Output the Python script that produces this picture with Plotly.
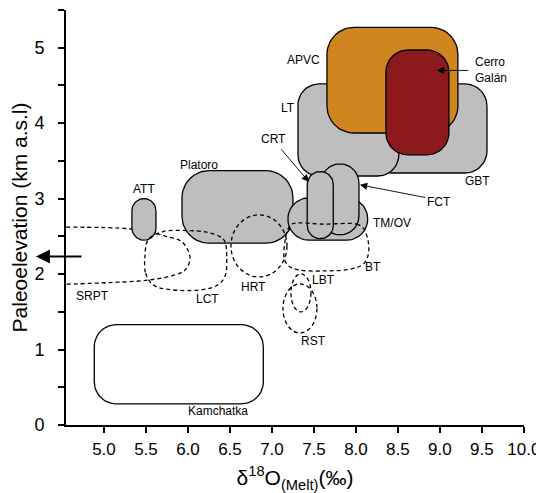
import numpy as np
import plotly.graph_objects as go

# ---------------- data ----------------
X_RANGE = [4.548, 10.001]
Y_RANGE = [0.0, 5.5]
x_tick_vals = [5.0, 5.5, 6.0, 6.5, 7.0, 7.5, 8.0, 8.5, 9.0, 9.5, 10.0]
x_tick_text = ["5.0", "5.5", "6.0", "6.5", "7.0", "7.5", "8.0", "8.5", "9.0", "9.5", "10.0"]
y_tick_vals = [0, 1, 2, 3, 4, 5]

# filled fields (d18O melt range, paleoelevation range)
box_names = ["Kamchatka", "ATT", "Platoro", "GBT", "LT", "APVC", "Cerro Galán", "TM/OV", "FCT", "CRT"]
box_x0 = [4.885, 5.333, 5.929, 8.17, 7.31, 7.655, 8.357, 7.19, 7.583, 7.42]
box_x1 = [6.897, 5.619, 7.25, 9.56, 8.51, 9.214, 9.107, 8.14, 8.036, 7.73]
box_y0 = [0.28, 2.45, 2.41, 3.34, 3.30, 3.87, 3.58, 2.45, 2.52, 2.47]
box_y1 = [1.33, 3.00, 3.37, 4.52, 4.52, 5.27, 4.97, 3.01, 3.46, 3.36]

# dashed fields (outlines)
srpt_x = [4.548, 5.310, 5.607, 5.746, 5.925, 6.024, 5.985, 5.905, 5.548, 5.071, 4.548]
srpt_y = [2.622, 2.600, 2.542, 2.497, 2.431, 2.232, 2.078, 2.012, 1.923, 1.888, 1.866]
lct_x = [5.488, 5.496, 5.587, 5.746, 6.143, 6.342, 6.440, 6.461, 6.440, 6.381, 6.223, 5.985, 5.706, 5.527, 5.488]
lct_y = [2.232, 2.012, 1.857, 1.800, 1.790, 1.848, 1.967, 2.232, 2.431, 2.497, 2.556, 2.577, 2.564, 2.454, 2.232]
bt_x = [7.630, 8.008, 8.087, 8.146, 8.146, 8.087, 7.949, 7.631, 7.313, 7.194, 7.146, 7.155, 7.187, 7.235, 7.630]
bt_y = [2.662, 2.662, 2.609, 2.431, 2.255, 2.131, 2.069, 2.042, 2.056, 2.113, 2.211, 2.431, 2.586, 2.662, 2.662]
ell_names = ["HRT", "LBT", "RST"]
ell_x0 = [6.512, 7.226, 7.131]
ell_x1 = [7.179, 7.464, 7.536]
ell_y0 = [1.963, 1.499, 1.220]
ell_y1 = [2.785, 2.003, 1.870]

# labels
label_text = ["APVC", "Cerro<br>Galán", "LT", "CRT", "FCT", "GBT", "TM/OV", "BT", "LBT",
              "RST", "HRT", "LCT", "SRPT", "ATT", "Platoro", "Kamchatka"]
label_x = [7.595, 9.393, 7.19, 7.024, 8.988, 9.452, 8.179, 8.202, 7.619,
           7.494, 6.786, 6.238, 4.869, 5.476, 6.131, 6.357]
label_y = [4.84, 4.70, 4.204, 3.793, 2.958, 3.236, 2.679, 2.095, 1.923,
           1.114, 1.830, 1.671, 1.711, 3.130, 3.448, 0.186]

# pointer arrows (tip -> tail)
arrow_tip_x = [8.964, 7.440, 8.048, 4.190]
arrow_tip_y = [4.699, 3.223, 3.183, 2.232]
arrow_tail_x = [9.357, 7.095, 8.845, 4.750]
arrow_tail_y = [4.699, 3.674, 3.011, 2.232]

# ---------------- style ----------------
W, H = 544, 493
M_L, M_R, M_T, M_B = 58, 28, 2, 76
GRAY = "#BDBEBD"
box_fill = ["white", GRAY, GRAY, GRAY, GRAY, "#CF8621", "#8C1A1C", GRAY, GRAY, GRAY]
box_radius_px = [22, 12, 27, 22, 21, 27, 22, 21, 19, 13]
label_anchor = ["right", "left", "center", "center", "center", "center", "left", "center", "center",
                "center", "center", "center", "center", "center", "center", "center"]
FONT = "Arial, Liberation Sans, Helvetica, sans-serif"
DASH = "4px,3px"

sx = (W - M_L - M_R) / (X_RANGE[1] - X_RANGE[0])
sy = (H - M_T - M_B) / (Y_RANGE[1] - Y_RANGE[0])


def rounded_rect(x0, x1, y0, y1, r):
    rx = min(r / sx, (x1 - x0) / 2)
    ry = min(r / sy, (y1 - y0) / 2)
    xs, ys = [], []
    for cx, cy, a0, a1 in [(x1 - rx, y1 - ry, 0, 90), (x0 + rx, y1 - ry, 90, 180),
                           (x0 + rx, y0 + ry, 180, 270), (x1 - rx, y0 + ry, 270, 360)]:
        t = np.radians(np.linspace(a0, a1, 14))
        xs.extend(cx + rx * np.cos(t))
        ys.extend(cy + ry * np.sin(t))
    xs.append(xs[0])
    ys.append(ys[0])
    return xs, ys


fig = go.Figure()


def add_box(i):
    xs, ys = rounded_rect(box_x0[i], box_x1[i], box_y0[i], box_y1[i], box_radius_px[i])
    fig.add_trace(go.Scatter(x=xs, y=ys, mode="lines", fill="toself", fillcolor=box_fill[i],
                             line=dict(color="black", width=1.3), hoverinfo="skip", name=box_names[i]))


def add_dashed(xs, ys, name):
    fig.add_trace(go.Scatter(x=xs, y=ys, mode="lines",
                             line=dict(color="black", width=1.3, dash=DASH, shape="spline", smoothing=1.0),
                             hoverinfo="skip", name=name))


add_box(0)                       # Kamchatka
add_dashed(srpt_x, srpt_y, "SRPT")
for i in range(1, len(box_names)):
    add_box(i)
add_dashed(lct_x, lct_y, "LCT")
add_dashed(bt_x, bt_y, "BT")

shapes = []
for i in range(len(ell_names)):
    shapes.append(dict(type="circle", xref="x", yref="y", x0=ell_x0[i], x1=ell_x1[i],
                       y0=ell_y0[i], y1=ell_y1[i], layer="above",
                       line=dict(color="black", width=1.3, dash=DASH)))

annotations = []
for t, x, y, a in zip(label_text, label_x, label_y, label_anchor):
    annotations.append(dict(x=x, y=y, xref="x", yref="y", text=t, showarrow=False,
                            xanchor=a, yanchor="middle", align="left",
                            font=dict(family=FONT, size=12, color="black")))
for i in range(len(arrow_tip_x)):
    big = i == 3
    annotations.append(dict(x=arrow_tip_x[i], y=arrow_tip_y[i], ax=arrow_tail_x[i], ay=arrow_tail_y[i],
                            xref="x", yref="y", axref="x", ayref="y", text="", showarrow=True,
                            arrowhead=2, arrowsize=1.4 if big else 1.6,
                            arrowwidth=2 if big else 0.9, arrowcolor="black"))

fig.update_layout(
    width=W, height=H,
    margin=dict(l=M_L, r=M_R, t=M_T, b=M_B, autoexpand=False),
    plot_bgcolor="white", paper_bgcolor="white",
    showlegend=False,
    shapes=shapes, annotations=annotations,
    font=dict(family=FONT, color="black"),
)
fig.update_xaxes(
    range=X_RANGE, tickvals=x_tick_vals, ticktext=x_tick_text,
    showline=True, linecolor="black", linewidth=2,
    ticks="outside", ticklen=6, tickwidth=2, tickcolor="black",
    tickfont=dict(family=FONT, size=17, color="black"), ticklabelstandoff=2,
    showgrid=False, zeroline=False, automargin=False,
    title=dict(text="δ<sup>18</sup>O<sub>(Melt)</sub>(‰)", font=dict(family=FONT, size=21, color="black"),
               standoff=12),
)
fig.update_yaxes(
    range=Y_RANGE, tickvals=y_tick_vals,
    showline=True, linecolor="black", linewidth=2,
    ticks="outside", ticklen=6, tickwidth=2, tickcolor="black",
    minor=dict(dtick=0.5, tick0=0, ticks="outside", ticklen=6, tickwidth=2, tickcolor="black", showgrid=False),
    tickfont=dict(family=FONT, size=18, color="black"), ticklabelstandoff=10,
    showgrid=False, zeroline=False, automargin=False,
    title=dict(text="Paleoelevation (km a.s.l)", font=dict(family=FONT, size=21, color="black"),
               standoff=4),
)

fig.write_html("out.html")
